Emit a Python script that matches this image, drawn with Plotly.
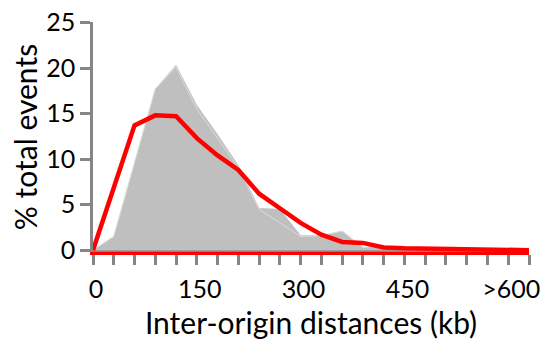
import plotly.graph_objects as go

# 30-kb bins of inter-origin distance (kb); last bin is ">600"
bins_kb = [0, 30, 60, 90, 120, 150, 180, 210, 240, 270, 300, 330, 360, 390,
           420, 450, 480, 510, 540, 570, 600, 630]
# observed distribution, back layer (% total events)
observed_a = [0, 1.5, 9.6, 17.7, 20.3, 15.9, 12.7, 9.3, 4.6, 4.5, 1.6, 1.6, 2.1,
              0.3, 0.45, 0.3, 0.2, 0.15, 0.1, 0.1, 0.05, 0]
# observed distribution, front layer (% total events)
observed_b = [0, 1.5, 9.6, 17.7, 20.1, 15.5, 12.3, 9.0, 4.5, 3.0, 1.5, 1.6, 2.1,
              0.3, 0.45, 0.3, 0.2, 0.15, 0.1, 0.1, 0.05, 0]
# simulated distribution (% total events)
simulated = [0, 6.8, 13.7, 14.8, 14.7, 12.3, 10.4, 8.8, 6.2, 4.6, 3.0, 1.7, 0.9,
             0.8, 0.3, 0.2, 0.15, 0.1, 0.08, 0.05, 0.03, 0.0]
# x tick labels
x_label_vals = [0, 150, 300, 450, 600]
x_label_text = ["0", "150", "300", "450", ">600"]
y_ticks = [0, 5, 10, 15, 20, 25]

GRAY_FILL = "#bfbfbf"
AXIS = "#868686"
RED = "#ff0000"
FONT = "Lato"

tick_text = [x_label_text[x_label_vals.index(b)] if b in x_label_vals else "" for b in bins_kb]

fig = go.Figure()
fig.add_trace(go.Scatter(x=bins_kb, y=observed_a, mode="lines", fill="tozeroy",
                         fillcolor=GRAY_FILL, line=dict(color=GRAY_FILL, width=0.5),
                         hoverinfo="skip", showlegend=False))
fig.add_trace(go.Scatter(x=bins_kb, y=observed_b, mode="lines", fill="tozeroy",
                         fillcolor=GRAY_FILL, line=dict(color="#e2e2e2", width=0.8),
                         hoverinfo="skip", showlegend=False))
fig.add_trace(go.Scatter(x=bins_kb, y=simulated, mode="lines",
                         line=dict(color=RED, width=4.5), showlegend=False))

fig.update_layout(
    width=552, height=340,
    margin=dict(l=93, r=23, t=22, b=88),
    paper_bgcolor="white", plot_bgcolor="white",
    font=dict(family=FONT, size=25, color="black"),
    xaxis=dict(
        range=[bins_kb[0], bins_kb[-1]],
        tickmode="array", tickvals=bins_kb, ticktext=tick_text,
        ticks="outside", ticklen=10, tickwidth=2.5, tickcolor=AXIS,
        ticklabelshift=3, ticklabelstandoff=3, ticklabeloverflow="allow",
        showline=True, linecolor=RED, linewidth=2.5,
        showgrid=False, zeroline=False, automargin=False,
        title=dict(text="Inter-origin distances (kb)", standoff=14),
    ),
    yaxis=dict(
        range=[-0.2, 25.05],
        tickmode="array", tickvals=y_ticks,
        ticks="outside", ticklen=10, tickwidth=2.5, tickcolor=AXIS,
        ticklabeloverflow="allow",
        showline=True, linecolor=AXIS, linewidth=2.5,
        showgrid=False, automargin=False,
        zeroline=True, zerolinecolor=AXIS, zerolinewidth=3,
        title=dict(text="% total events", standoff=0),
    ),
)

fig.write_html("out.html", config={"displayModeBar": False},
               post_script="document.body.style.margin='0';")
